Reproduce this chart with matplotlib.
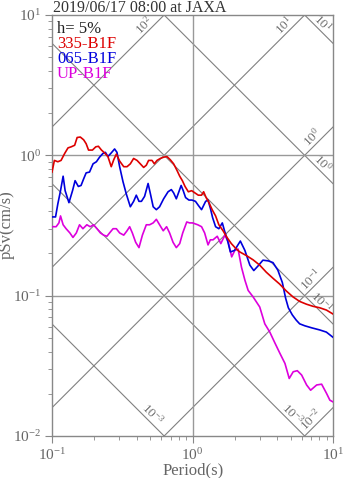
import numpy as np
import matplotlib
matplotlib.use("Agg")
import matplotlib.pyplot as plt

plt.rcParams['font.family'] = ['Liberation Serif', 'DejaVu Serif']
plt.rcParams['mathtext.fontset'] = 'custom'
plt.rcParams['mathtext.rm'] = 'Liberation Serif'
plt.rcParams['mathtext.it'] = 'Liberation Serif:italic'
plt.rcParams['mathtext.bf'] = 'Liberation Serif:bold'

title = "2019/06/17 08:00 at JAXA"
damping_label = "h= 5%"
series_names = ["335-B1F", "065-B1F", "UP-B1F"]

red_T = [0.100, 0.104, 0.110, 0.116, 0.123, 0.130, 0.137, 0.145, 0.151, 0.159, 0.168, 0.175,
         0.182, 0.194, 0.205, 0.214, 0.225, 0.237, 0.250, 0.264, 0.275, 0.287, 0.303, 0.324,
         0.342, 0.361, 0.381, 0.403, 0.425, 0.449, 0.469, 0.487, 0.515, 0.535, 0.559, 0.590,
         0.623, 0.658, 0.695, 0.734, 0.776, 0.811, 0.847, 0.885, 0.934, 0.986, 1.04, 1.10,
         1.16, 1.20, 1.25, 1.31, 1.38, 1.46, 1.54, 1.65, 1.76, 1.89, 2.05, 2.17, 2.42, 2.70,
         3.01, 3.35, 3.74, 4.17, 4.65, 5.19, 5.79, 6.46, 7.20, 8.04, 8.97, 10.0]
red_S = [0.76, 0.92, 0.90, 0.92, 1.03, 1.13, 1.15, 1.18, 1.34, 1.35, 1.29, 1.21,
         1.09, 1.09, 1.15, 1.16, 1.09, 1.04, 0.98, 0.83, 0.93, 1.02, 0.91, 0.83,
         0.83, 0.87, 0.95, 0.92, 0.87, 0.82, 0.85, 0.92, 0.92, 0.87, 0.92, 0.95,
         0.97, 0.98, 0.93, 0.87, 0.78, 0.71, 0.66, 0.60, 0.55, 0.56, 0.54, 0.52,
         0.52, 0.55, 0.50, 0.46, 0.41, 0.37, 0.32, 0.29, 0.26, 0.235, 0.215, 0.205, 0.193, 0.180,
         0.165, 0.147, 0.133, 0.121, 0.108, 0.098, 0.091, 0.087, 0.084, 0.082, 0.079, 0.074]

blue_T = [0.100, 0.106, 0.110, 0.115, 0.120, 0.124, 0.132, 0.140, 0.146, 0.154, 0.161, 0.168,
          0.175, 0.185, 0.196, 0.207, 0.218, 0.230, 0.240, 0.250, 0.264, 0.279, 0.290, 0.303,
          0.320, 0.338, 0.361, 0.381, 0.398, 0.416, 0.433, 0.456, 0.483, 0.502, 0.525, 0.553,
          0.583, 0.623, 0.670, 0.707, 0.734, 0.767, 0.800, 0.830, 0.859, 0.893, 0.943, 0.992,
          1.05, 1.10, 1.16, 1.24, 1.29, 1.34, 1.39, 1.46, 1.54, 1.63, 1.69, 1.77, 1.86, 1.99,
          2.19, 2.36, 2.56, 2.73, 2.93, 3.17, 3.46, 3.74, 4.05, 4.36, 4.60, 4.81, 5.13, 5.47,
          5.79, 6.30, 7.05, 8.04, 8.97, 10.0]
blue_S = [0.364, 0.364, 0.45, 0.56, 0.71, 0.56, 0.46, 0.56, 0.66, 0.60, 0.61, 0.68,
          0.75, 0.76, 0.87, 0.90, 0.97, 1.03, 1.05, 0.98, 1.04, 1.11, 1.05, 0.83,
          0.65, 0.53, 0.43, 0.47, 0.52, 0.47, 0.47, 0.51, 0.63, 0.53, 0.43, 0.41,
          0.43, 0.49, 0.55, 0.57, 0.54, 0.49, 0.55, 0.61, 0.56, 0.50, 0.48, 0.48,
          0.47, 0.44, 0.41, 0.47, 0.48, 0.42, 0.36, 0.31, 0.30, 0.33, 0.29, 0.25, 0.205, 0.21,
          0.245, 0.21, 0.165, 0.151, 0.163, 0.179, 0.177, 0.172, 0.152, 0.124, 0.096, 0.082, 0.073, 0.067,
          0.063, 0.061, 0.059, 0.057, 0.055, 0.0505]

mag_T = [0.100, 0.107, 0.112, 0.115, 0.120, 0.126, 0.134, 0.141, 0.149, 0.157, 0.166, 0.177,
         0.187, 0.198, 0.209, 0.221, 0.233, 0.246, 0.257, 0.272, 0.287, 0.303, 0.324, 0.342,
         0.357, 0.373, 0.394, 0.416, 0.440, 0.469, 0.495, 0.525, 0.553, 0.583, 0.619, 0.654,
         0.687, 0.727, 0.767, 0.811, 0.852, 0.910, 0.954, 1.00, 1.09, 1.16, 1.22, 1.29,
         1.34, 1.40, 1.50, 1.59, 1.70, 1.80, 1.90, 2.00, 2.11, 2.23, 2.36, 2.49, 2.70, 3.01,
         3.27, 3.55, 3.86, 4.19, 4.55, 4.88, 5.21, 5.57, 5.98, 6.49, 6.93, 7.65, 8.30, 9.00,
         9.50, 10.0]
mag_S = [0.31, 0.31, 0.33, 0.37, 0.32, 0.30, 0.28, 0.26, 0.28, 0.32, 0.30, 0.32,
         0.31, 0.32, 0.30, 0.28, 0.27, 0.265, 0.28, 0.30, 0.30, 0.28, 0.27, 0.29,
         0.31, 0.28, 0.24, 0.22, 0.27, 0.32, 0.32, 0.33, 0.35, 0.32, 0.29, 0.31,
         0.28, 0.24, 0.22, 0.235, 0.28, 0.335, 0.33, 0.33, 0.32, 0.31, 0.28, 0.23,
         0.25, 0.25, 0.265, 0.235, 0.27, 0.24, 0.189, 0.21, 0.215, 0.160, 0.129, 0.109, 0.098, 0.083,
         0.063, 0.055, 0.046, 0.0388, 0.0329, 0.0257, 0.0287, 0.0292, 0.0272, 0.0231, 0.0212, 0.0231, 0.0234, 0.0201,
         0.018, 0.0175]

accel_levels = [1e-2, 1e-1, 1e0, 1e1, 1e2]          # gal (rising lines)
accel_labels = ["10$^{-2}$", "10$^{-1}$", "10$^{0}$", "10$^{1}$", "10$^{2}$"]
disp_levels = [1e-3, 1e-2, 1e-1, 1e0, 1e1]          # cm (falling lines)
disp_labels = ["10$^{-3}$", "10$^{-3}$", "10$^{-1}$", "10$^{0}$", "10$^{1}$"]

series_colors = ["#dd0000", "#0000dd", "#dd00dd"]

W, H = 347, 478
fig = plt.figure(figsize=(W / 100, H / 100), dpi=100)
ax = fig.add_axes([52 / W, 1 - 436 / H, 281 / W, 421 / H])
ax.set_xscale('log')
ax.set_yscale('log')
xmin, xmax, ymin, ymax = 0.1, 10.0, 0.01, 10.0
ax.set_xlim(xmin, xmax)
ax.set_ylim(ymin, ymax)

gcol = '#808080'
lcol = '#707070'
Tl = np.logspace(-1, 1, 200)
lx0, lx1, ly0, ly1 = np.log10([xmin, xmax, ymin, ymax])
delta = 0.06
for A, lab in zip(accel_levels, accel_labels):
    S = A * Tl / (2 * np.pi)
    ax.plot(Tl, S, color=gcol, lw=0.8, zorder=1)
    c = np.log10(A / (2 * np.pi))  # logS = logT + c
    lt = min(lx1, ly1 - c)
    ls = lt + c
    ax.text(10 ** (lt - delta), 10 ** (ls - delta), lab, rotation=45, rotation_mode='anchor',
            ha='right', va='bottom', fontsize=9.5, color=lcol, zorder=2)
for D, lab in zip(disp_levels, disp_labels):
    S = 2 * np.pi * D / Tl
    ax.plot(Tl, S, color=gcol, lw=0.8, zorder=1)
    c = np.log10(2 * np.pi * D)  # logS = c - logT
    lt = min(lx1, c - ly0)
    ls = c - lt
    ax.text(10 ** (lt - delta), 10 ** (ls + delta), lab, rotation=-45, rotation_mode='anchor',
            ha='right', va='bottom', fontsize=9.5, color=lcol, zorder=2)

ax.axvline(1.0, color='#999999', lw=1.0, zorder=1)
for v in [1.0, 0.1]:
    ax.axhline(v, color='#999999', lw=1.0, zorder=1)

ax.plot(mag_T, mag_S, color=series_colors[2], lw=1.2, zorder=3)
ax.plot(blue_T, blue_S, color=series_colors[1], lw=1.2, zorder=4)
ax.plot(red_T, red_S, color=series_colors[0], lw=1.2, zorder=5)

for sp in ax.spines.values():
    sp.set_color('#888888')
    sp.set_linewidth(1.0)
ax.tick_params(which='both', direction='out', colors='#888888', labelcolor='#666666',
               top=False, right=False)
ax.tick_params(which='major', length=5, labelsize=11, pad=3)
ax.tick_params(which='minor', length=3)

fig.text(193 / W, 1 - 470 / H, "Period(s)", fontsize=12, color='#666666', ha='center', va='center')
fig.text(7 / W, 1 - 225 / H, "pSv(cm/s)", fontsize=12, color='#666666', ha='center', va='center',
         rotation=90)
fig.text(53 / W, 1 - 11.5 / H, title, fontsize=11.5, color='#333333', ha='left', va='baseline')

baselines = [33, 48, 63, 77.5]
for txt, col, yb in zip([damping_label] + series_names, ['#222222'] + series_colors, baselines):
    fig.text(57 / W, 1 - yb / H, txt, fontsize=12, color=col, ha='left', va='baseline', zorder=6)

fig.savefig("out.png", dpi=100)
